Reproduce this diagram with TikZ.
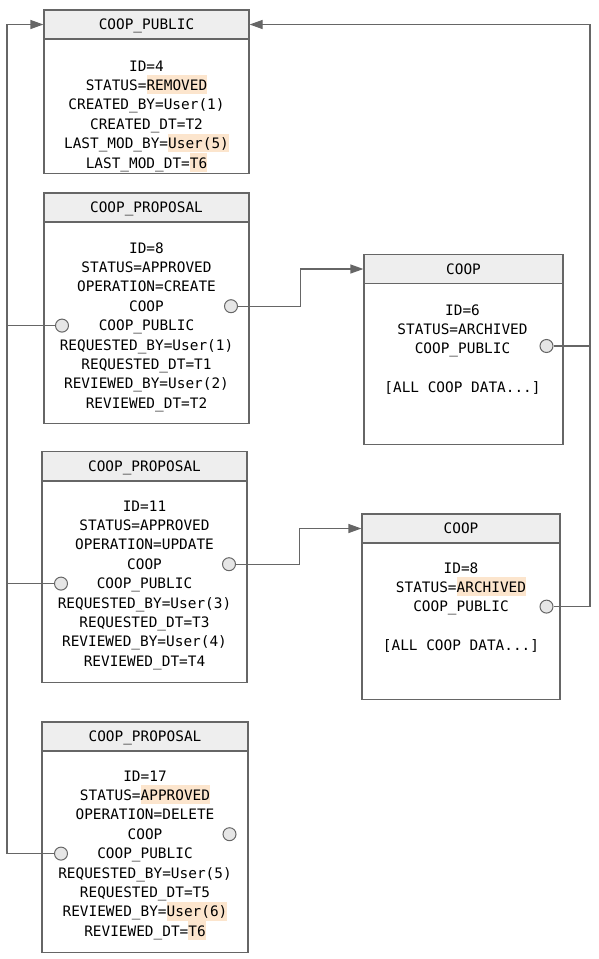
\documentclass[tikz,border=0pt]{standalone}
\usepackage{fontspec}
\setmonofont{DejaVu Sans Mono}
\usepackage{tikz}
\usetikzlibrary{arrows.meta}

\definecolor{boxgray}{HTML}{666666}
\definecolor{hdrgray}{HTML}{EEEEEE}
\definecolor{dotgray}{HTML}{E6E6E6}
\definecolor{hlpeach}{HTML}{FCE5CD}
\newcommand{\hilite}[1]{{\setlength{\fboxsep}{0pt}\colorbox{hlpeach}{\rule[-3.7pt]{0pt}{18.7pt}#1}}}
\newcommand{\coopdata}{[ALL COOP DATA.{}.{}.]}

\begin{document}
\begin{tikzpicture}[x=1pt,y=-1pt,
    tbl/.style={draw=boxgray,line width=1.2pt,inner sep=0pt,
                font=\ttfamily\fontsize{14.4}{19.4}\selectfont},
    hdr/.style={tbl,fill=hdrgray,minimum height=29pt,text height=10.5pt,text depth=0pt},
    bodybox/.style={tbl,anchor=north},
    ln/.style={inner sep=0pt,anchor=base,font=\ttfamily\fontsize{14.4}{19.4}\selectfont},
    dot/.style={circle,draw=boxgray,fill=dotgray,line width=1pt,
                minimum size=13pt,inner sep=0pt},
    conn/.style={draw=boxgray,line width=1.2pt},
    >={Triangle[length=13pt,width=9pt]}]
\useasboundingbox (0,0) rectangle (598,959);

% tables
\node[bodybox,minimum width=205pt,minimum height=134pt] (pubbody) at (146.5,39) {};
\node[hdr,minimum width=205pt] (pub) at (146.5,24.5) {COOP\_PUBLIC};
\node[bodybox,minimum width=205pt,minimum height=201pt] (p1body) at (146.5,222) {};
\node[hdr,minimum width=205pt] (p1) at (146.5,207.5) {COOP\_PROPOSAL};
\node[bodybox,minimum width=205pt,minimum height=201pt] (p2body) at (144.5,481) {};
\node[hdr,minimum width=205pt] (p2) at (144.5,466) {COOP\_PROPOSAL};
\node[bodybox,minimum width=206pt,minimum height=201pt] (p3body) at (145,751) {};
\node[hdr,minimum width=206pt] (p3) at (145,736.5) {COOP\_PROPOSAL};
\node[bodybox,minimum width=199pt,minimum height=161pt] (c1body) at (463.5,283) {};
\node[hdr,minimum width=199pt] (c1) at (463.5,269) {COOP};
\node[bodybox,minimum width=198pt,minimum height=156pt] (c2body) at (461,543) {};
\node[hdr,minimum width=198pt] (c2) at (461,528.5) {COOP};

% rows
\foreach \t [count=\i from 0] in {ID=4,STATUS=\hilite{REMOVED},CREATED\_BY=User(1),
    CREATED\_DT=T2,LAST\_MOD\_BY=\hilite{User(5)},LAST\_MOD\_DT=\hilite{T6}}
  \node[ln] (pub-\i) at (146.5,{71+19.4*\i}) {\t};
\foreach \t [count=\i from 0] in {ID=8,STATUS=APPROVED,OPERATION=CREATE,COOP,COOP\_PUBLIC,
    REQUESTED\_BY=User(1),REQUESTED\_DT=T1,REVIEWED\_BY=User(2),REVIEWED\_DT=T2}
  \node[ln] (p1-\i) at (146.5,{253+19.4*\i}) {\t};
\foreach \t [count=\i from 0] in {ID=11,STATUS=APPROVED,OPERATION=UPDATE,COOP,COOP\_PUBLIC,
    REQUESTED\_BY=User(3),REQUESTED\_DT=T3,REVIEWED\_BY=User(4),REVIEWED\_DT=T4}
  \node[ln] (p2-\i) at (144.5,{511+19.4*\i}) {\t};
\foreach \t [count=\i from 0] in {ID=17,STATUS=\hilite{APPROVED},OPERATION=DELETE,COOP,COOP\_PUBLIC,
    REQUESTED\_BY=User(5),REQUESTED\_DT=T5,REVIEWED\_BY=\hilite{User(6)},REVIEWED\_DT=\hilite{T6}}
  \node[ln] (p3-\i) at (145,{781+19.4*\i}) {\t};
\foreach \t [count=\i from 0] in {ID=6,STATUS=ARCHIVED,COOP\_PUBLIC,{},\coopdata}
  \node[ln] (c1-\i) at (462.5,{315+19.3*\i}) {\t};
\foreach \t [count=\i from 0] in {ID=8,STATUS=\hilite{ARCHIVED},COOP\_PUBLIC,{},\coopdata}
  \node[ln] (c2-\i) at (461,{573+19.3*\i}) {\t};

% links
\begin{scope}[every node/.style={dot}]
    \node (p1l) at (62,325.6) {};
    \node (p1r) at (231,306.2) {};
    \node (p2l) at (61,583.6) {};
    \node (p2r) at (229,564.2) {};
    \node (p3l) at (61,853.6) {};
    \node (p3r) at (229.5,834.2) {};
    \node (c1r) at (546.5,346) {};
    \node (c2r) at (546.5,606.6) {};
\end{scope}
\coordinate (ltop) at (7,24.5);
\coordinate (rtop) at (590,24.5);

\draw[conn,->] (p3l.west) -| (ltop) -- (pub.west);
\draw[conn] (p1l.west) -- (p1l.west -| ltop);
\draw[conn] (p2l.west) -- (p2l.west -| ltop);
\draw[conn,->] (c2r.east) -| (rtop) -- (pub.east);
\draw[conn] (c1r.east) -- (c1r.east -| rtop);
\draw[conn,->] (p1r.east) -- ++(62.5,0) |- (c1.west);
\draw[conn,->] (p2r.east) -- ++(63.5,0) |- (c2.west);
\end{tikzpicture}
\end{document}
